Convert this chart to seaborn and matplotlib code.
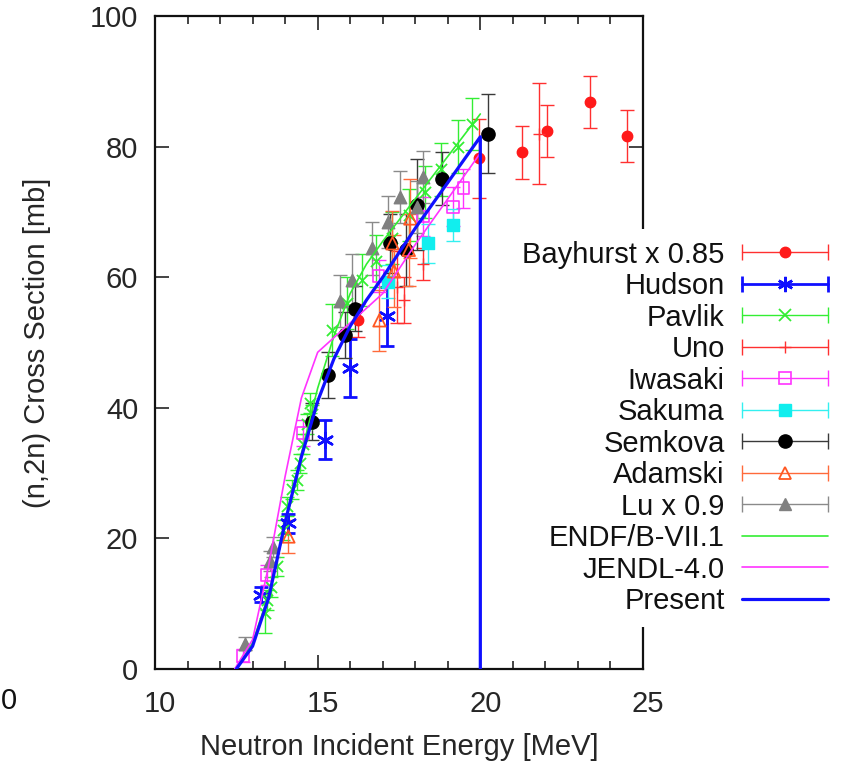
import matplotlib
matplotlib.use("Agg")
import matplotlib.pyplot as plt
import matplotlib.transforms as mtransforms
from matplotlib.lines import Line2D
from matplotlib.legend_handler import HandlerLine2D
from matplotlib.ticker import MultipleLocator
import pandas as pd
import seaborn as sns

# ---- experimental data: energy [MeV], cross section [mb], uncertainty [mb] ----
bayhurst_e = [16.25, 19.95, 21.27, 22.04, 23.37, 24.50]
bayhurst_xs = [53.4, 78.2, 79.1, 82.4, 86.8, 81.6]
bayhurst_err = [2.5, 6.0, 4.0, 4.0, 4.0, 4.0]

hudson_e = [13.25, 14.10, 15.23, 16.00, 17.12]
hudson_xs = [11.4, 22.3, 35.1, 46.1, 54.0]
hudson_err = [1.2, 1.5, 3.0, 4.5, 4.5]

pavlik_e = [13.38, 13.43, 13.58, 13.74, 13.94, 14.05, 14.20, 14.36, 14.46, 14.56,
            14.66, 14.76, 14.82, 15.43, 15.90, 16.35, 16.80, 17.30, 17.80, 18.30,
            18.80, 19.30, 19.75]
pavlik_xs = [8.5, 10.6, 12.6, 15.7, 21.3, 24.9, 27.5, 28.9, 31.5, 34.5,
             37.5, 40.7, 39.0, 51.9, 56.0, 59.6, 62.5, 66.0, 69.5, 73.0,
             76.5, 80.0, 83.5]
pavlik_err = [3.0, 1.5, 1.5, 1.5, 1.5, 1.5, 1.5, 1.5, 1.5, 1.5,
              1.5, 1.5, 1.5, 4.0, 4.0, 4.0, 4.0, 4.0, 4.0, 4.0,
              4.0, 4.0, 4.0]

uno_e = [17.45, 17.65, 18.25, 21.80]
uno_xs = [58.5, 56.5, 62.0, 82.0]
uno_err = [5.5, 3.5, 2.5, 7.8]

iwasaki_e = [12.70, 13.43, 14.56, 16.87, 18.25, 19.17, 19.48]
iwasaki_xs = [2.0, 14.4, 36.1, 60.2, 69.3, 70.8, 73.6]
iwasaki_err = [1.0, 1.5, 2.0, 2.5, 3.0, 3.0, 3.0]

sakuma_e = [17.17, 18.40, 19.17]
sakuma_xs = [59.3, 65.2, 68.0]
sakuma_err = [2.5, 3.0, 2.5]

semkova_e = [14.82, 15.33, 15.84, 16.15, 17.22, 17.73, 18.04, 18.81, 20.25]
semkova_xs = [37.9, 45.0, 51.1, 55.2, 65.2, 64.2, 71.1, 75.1, 82.0]
semkova_err = [2.8, 3.5, 3.5, 3.5, 4.5, 5.5, 7.0, 4.0, 6.0]

adamski_e = [14.10, 16.90, 17.35, 17.30, 17.80, 17.85]
adamski_xs = [20.3, 53.4, 60.9, 65.2, 64.2, 69.0]
adamski_err = [2.5, 4.7, 5.5, 5.0, 5.5, 6.0]

lu_e = [12.77, 13.55, 13.64, 15.69, 16.05, 16.66, 17.17, 17.53, 18.04, 18.25]
lu_xs = [3.9, 16.5, 18.7, 56.3, 59.6, 64.4, 68.5, 72.3, 70.8, 75.4]
lu_err = [1.0, 1.5, 1.5, 4.0, 4.0, 4.0, 4.0, 4.0, 4.0, 4.0]

# ---- evaluated / calculated excitation functions ----
endf_e = [12.5, 13.0, 13.5, 14.0, 14.5, 15.0, 15.5, 16.0, 16.5, 17.0, 18.0, 19.0, 20.0]
endf_xs = [0.0, 4.0, 11.5, 22.0, 33.0, 43.0, 51.0, 57.5, 62.0, 65.5, 72.0, 78.5, 85.0]

jendl_e = [12.45, 13.0, 13.5, 14.0, 14.5, 15.0, 16.0, 17.0, 18.0, 19.0, 20.0]
jendl_xs = [0.0, 4.5, 16.0, 29.5, 41.5, 48.5, 53.0, 57.5, 65.0, 72.0, 79.0]

present_e = [12.5, 13.0, 13.5, 14.0, 14.5, 15.0, 15.5, 16.0, 16.5, 17.0, 18.0, 19.0, 20.0, 20.0]
present_xs = [0.0, 3.5, 11.0, 22.5, 32.5, 41.0, 47.5, 52.5, 56.5, 60.0, 67.5, 74.5, 81.5, 0.0]

x_ticks = [10, 15, 20, 25]
y_ticks = [0, 20, 40, 60, 80, 100]

sns.set_theme(style="white")
plt.rcParams["font.family"] = ["Liberation Sans", "DejaVu Sans"]
plt.rcParams["text.color"] = "#111111"

FS = 21

fig = plt.figure(figsize=(8.42, 7.66), dpi=100)
ax = fig.add_axes([155 / 842, 1 - 669 / 766, 488 / 842, 653 / 766])

# styles for each experimental set
exp_sets = [
    ("Bayhurst x 0.85", bayhurst_e, bayhurst_xs, bayhurst_err,
     dict(color="#ff1a1a", ecolor="#ff3030", marker="o", ms=7.5, mfc="#ff1a1a", mew=1.0)),
    ("Hudson", hudson_e, hudson_xs, hudson_err,
     dict(color="#1010ff", ecolor="#1010ff", marker=(6, 2, 0), ms=11, mfc="#1010ff", mew=1.8, elw=2.0)),
    ("Pavlik", pavlik_e, pavlik_xs, pavlik_err,
     dict(color="#33ee33", ecolor="#33ee33", marker="x", ms=8, mfc="#33ee33", mew=1.3)),
    ("Uno", uno_e, uno_xs, uno_err,
     dict(color="#ff3030", ecolor="#ff3030", marker="+", ms=8, mfc="#ff3030", mew=1.0)),
    ("Iwasaki", iwasaki_e, iwasaki_xs, iwasaki_err,
     dict(color="#ff33ff", ecolor="#ff33ff", marker="s", ms=8.5, mfc="none", mew=1.2)),
    ("Sakuma", sakuma_e, sakuma_xs, sakuma_err,
     dict(color="#11eeee", ecolor="#33f0f0", marker="s", ms=8.5, mfc="#11eeee", mew=1.0)),
    ("Semkova", semkova_e, semkova_xs, semkova_err,
     dict(color="#000000", ecolor="#3a3a3a", marker="o", ms=9.5, mfc="#000000", mew=1.0)),
    ("Adamski", adamski_e, adamski_xs, adamski_err,
     dict(color="#ff5722", ecolor="#ff6a3a", marker="^", ms=9, mfc="none", mew=1.3)),
    ("Lu x 0.9", lu_e, lu_xs, lu_err,
     dict(color="#808080", ecolor="#8a8a8a", marker="^", ms=9, mfc="#808080", mew=1.0)),
]

handles, labels, hmap = [], [], {}
for label, e, xs, err, st in exp_sets:
    ax.errorbar(e, xs, yerr=err, fmt="none", ecolor=st["ecolor"],
                elinewidth=st.get("elw", 1.0), capsize=4.8, capthick=st.get("elw", 1.0), zorder=2)
    sns.scatterplot(x=e, y=xs, ax=ax, marker=st["marker"], s=st["ms"] ** 2,
                    facecolor=st["mfc"], edgecolor=st["color"], color=st["color"],
                    linewidth=st["mew"], zorder=2.2, legend=False)
    bar = Line2D([], [], color=st["ecolor"], lw=st.get("elw", 1.0), marker="|",
                 ms=12, mew=st.get("elw", 1.0))
    pt = Line2D([], [], ls="none", color=st["color"], marker=st["marker"], ms=st["ms"],
                mfc=st["mfc"], mec=st["color"], mew=st["mew"])
    hmap[bar] = HandlerLine2D(numpoints=2, marker_pad=0)
    handles.append((bar, pt))
    labels.append(label)

curves = [
    ("ENDF/B-VII.1", endf_e, endf_xs, "#33ee33", 1.2, 3),
    ("JENDL-4.0", jendl_e, jendl_xs, "#ff33ff", 1.2, 3),
    ("Present", present_e, present_xs, "#1010ff", 2.3, 4),
]
for label, e, xs, c, lw, z in curves:
    df = pd.DataFrame({"E": e, "xs": xs})
    sns.lineplot(data=df, x="E", y="xs", ax=ax, sort=False, estimator=None,
                 color=c, lw=lw, zorder=z)
    handles.append(Line2D([], [], color=c, lw=lw))
    labels.append(label)

ax.set_xlim(10, 25)
ax.set_ylim(0, 100)
ax.set_xticks(x_ticks)
ax.set_yticks(y_ticks)
ax.xaxis.set_minor_locator(MultipleLocator(1))

for s in ax.spines.values():
    s.set_visible(True)
    s.set_color("#111111")
    s.set_linewidth(1.6)

ax.tick_params(axis="both", which="both", direction="in", top=True, right=True,
               bottom=True, left=True, color="#111111", width=1.1)
ax.tick_params(axis="both", which="major", length=10, labelsize=FS)
ax.tick_params(axis="x", which="minor", length=5.5)
ax.tick_params(axis="x", which="major", pad=15)
ax.tick_params(axis="y", which="major", pad=12)

shift = mtransforms.ScaledTranslation(0.05, 0, fig.dpi_scale_trans)
for lab in ax.get_xticklabels():
    lab.set_transform(lab.get_transform() + shift)

ax.set_xlabel("Neutron Incident Energy [MeV]", fontsize=FS)
ax.set_ylabel("(n,2n) Cross Section [mb]", fontsize=FS)
ax.xaxis.set_label_coords(0.5, -0.098)
ax.yaxis.set_label_coords(-0.213, 0.5)

fig.text(1 / 842, 1 - 701 / 766, "0", ha="left", va="center", fontsize=FS)

leg = ax.legend(handles, labels, handler_map=hmap, loc="upper right",
                bbox_to_anchor=(840 / 842, 1 - 229 / 766), bbox_transform=fig.transFigure,
                borderaxespad=0, markerfirst=False, frameon=True, framealpha=1,
                fancybox=False, fontsize=FS, handlelength=2.95, handletextpad=0.6,
                labelspacing=0.12, borderpad=0.4)
leg.get_frame().set_edgecolor("none")
leg.get_frame().set_facecolor("white")
leg.set_zorder(10)

fig.savefig("out.png", dpi=100)
